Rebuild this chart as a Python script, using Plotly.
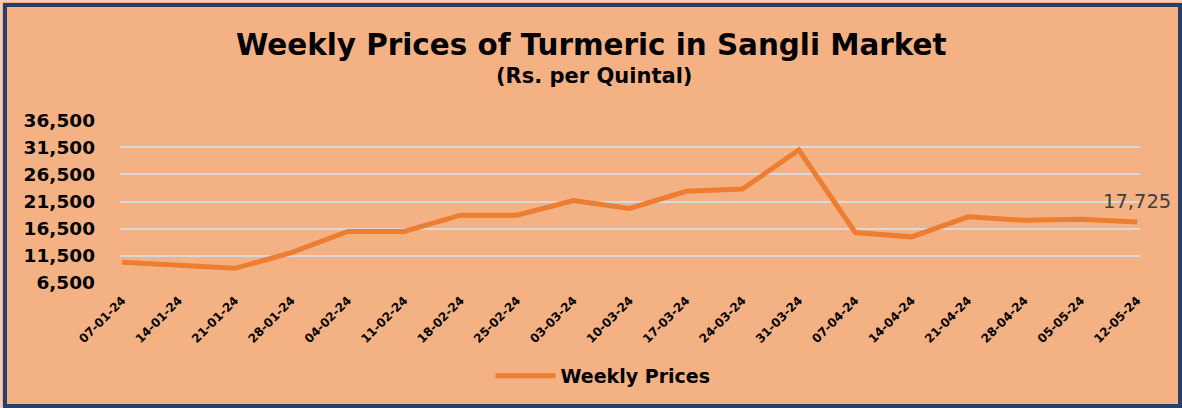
import plotly.graph_objects as go

dates = ["07-01-24", "14-01-24", "21-01-24", "28-01-24", "04-02-24", "11-02-24",
         "18-02-24", "25-02-24", "03-03-24", "10-03-24", "17-03-24", "24-03-24",
         "31-03-24", "07-04-24", "14-04-24", "21-04-24", "28-04-24", "05-05-24",
         "12-05-24"]
prices = [10300, 9800, 9200, 12100, 16000, 16000,
          19000, 19000, 21700, 20250, 23400, 23800,
          31000, 15800, 15000, 18700, 18050, 18250,
          17725]
y_ticks = [6500, 11500, 16500, 21500, 26500, 31500, 36500]

W, H = 1182, 408
ML, MR, MT, MB = 120, 42, 120, 125
PW, PH = W - ML - MR, H - MT - MB

def px(x):
    return (x - ML) / PW

def py(y):
    return (H - MB - y) / PH

BG = "#F4B183"
LINE = "#ED7D31"
FONT = "DejaVu Sans"

fig = go.Figure()
fig.add_trace(go.Scatter(
    x=dates, y=prices, mode="lines", name="<b>Weekly Prices</b>",
    line=dict(color=LINE, width=5),
))

fig.add_annotation(
    x=dates[-1], y=prices[-1], text=f"{prices[-1]:,}", showarrow=False,
    yshift=21, font=dict(family=FONT, size=19.5, color="#404040"),
)
fig.add_annotation(
    xref="paper", yref="paper", x=px(591), y=py(45), xanchor="center", yanchor="middle",
    text="<b>Weekly Prices of Turmeric in Sangli Market</b>", showarrow=False,
    font=dict(family=FONT, size=29.4, color="black"),
)
fig.add_annotation(
    xref="paper", yref="paper", x=px(594), y=py(76), xanchor="center", yanchor="middle",
    text="<b>(Rs. per Quintal)</b>", showarrow=False,
    font=dict(family=FONT, size=21, color="black"),
)

fig.add_shape(type="rect", xref="paper", yref="paper", layer="above",
              x0=px(1), x1=px(W - 1), y0=py(1), y1=py(H - 1),
              line=dict(color="#F2CDBE", width=2))
fig.add_shape(type="rect", xref="paper", yref="paper", layer="above",
              x0=px(5), x1=px(1180), y0=py(5), y1=py(406),
              line=dict(color="#263F6B", width=4))

fig.update_layout(
    width=W, height=H, template="none",
    margin=dict(l=ML, r=MR, t=MT, b=MB, pad=0),
    paper_bgcolor=BG, plot_bgcolor=BG,
    font=dict(family=FONT, color="black"),
    showlegend=True,
    legend=dict(orientation="h", x=px(603), xanchor="center", y=py(376), yanchor="middle",
                font=dict(family=FONT, size=19, color="black"), bgcolor="rgba(0,0,0,0)",
                itemwidth=60),
    xaxis=dict(
        type="category", range=[-0.04, len(dates) - 1 + 0.05],
        showgrid=False, zeroline=False, showline=False, ticks="",
        tickangle=-45, tickfont=dict(family=FONT, size=12, color="black", weight="bold"),
        ticklabelstandoff=7, automargin=False,
    ),
    yaxis=dict(
        range=[6500, 36530], tickvals=y_ticks, tickformat=",d",
        showgrid=True, gridcolor="#D9D9D9", gridwidth=1.5, zeroline=False,
        showline=False, ticks="",
        tickfont=dict(family=FONT, size=18.5, color="black", weight="bold"),
        ticklabelstandoff=24, automargin=False,
    ),
)

fig.write_html("out.html", config={"displayModeBar": False},
               post_script="document.body.style.margin='0';document.body.style.overflow='hidden';")
